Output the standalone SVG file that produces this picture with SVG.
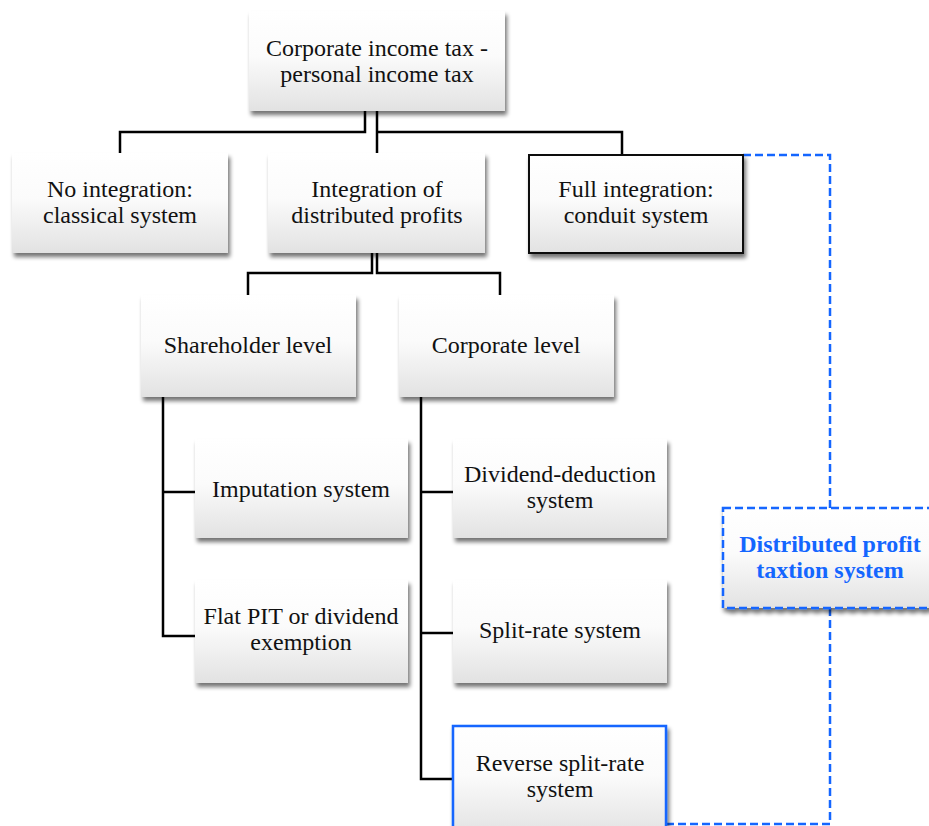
<svg xmlns="http://www.w3.org/2000/svg" width="929" height="826" viewBox="0 0 929 826">
  <defs>
    <linearGradient id="boxFill" x1="0" y1="0" x2="0" y2="1">
      <stop offset="0" stop-color="#ffffff"/>
      <stop offset="0.45" stop-color="#fbfbfb"/>
      <stop offset="1" stop-color="#e2e2e2"/>
    </linearGradient>
    <filter id="shadow" x="-10%" y="-10%" width="125%" height="130%">
      <feGaussianBlur in="SourceAlpha" stdDeviation="2.2"/>
      <feOffset dx="2" dy="4" result="b"/>
      <feComponentTransfer><feFuncA type="linear" slope="0.55"/></feComponentTransfer>
      <feMerge><feMergeNode/><feMergeNode in="SourceGraphic"/></feMerge>
    </filter>
  </defs>
  <style>
    .box { fill: url(#boxFill); filter: url(#shadow); }
    .dark { stroke: #111; stroke-width: 2; }
    .blue { stroke: #1466ff; stroke-width: 2.5; }
    .bluedash { stroke: #1466ff; stroke-width: 2.5; stroke-dasharray: 8 4; fill: none; }
    .lbl { font-family: "Liberation Serif", "Times New Roman", serif; font-size: 24px; fill: #111; text-anchor: middle; }
    .blbl { font-family: "Liberation Serif", "Times New Roman", serif; font-size: 24px; font-weight: bold; fill: #1466ff; text-anchor: middle; }
    .conn { stroke: #000; stroke-width: 2.5; fill: none; }
  </style>

  <rect width="929" height="826" fill="#ffffff"/>

  <!-- tree connectors -->
  <g id="connectors">
    <polyline class="conn" points="365,111 365,132 120,132 120,153"/>
    <polyline class="conn" points="377,111 377,153"/>
    <polyline class="conn" points="377,132 622,132 622,155"/>
    <polyline class="conn" points="372,253 372,273 248,273 248,295"/>
    <polyline class="conn" points="377,253 377,273 500,273 500,295"/>
    <polyline class="conn" points="163,397 163,636 195,636"/>
    <line class="conn" x1="163" y1="492" x2="195" y2="492"/>
    <polyline class="conn" points="421,397 421,779 453,779"/>
    <line class="conn" x1="421" y1="492" x2="453" y2="492"/>
    <line class="conn" x1="421" y1="633" x2="453" y2="633"/>
    <!-- dashed grouping line -->
    <polyline class="bluedash" points="743,155 830,155 830,508"/>
    <polyline class="bluedash" points="830,608 830,824 667,824"/>
  </g>

  <g id="top">
    <rect class="box" x="249" y="11" width="256" height="100"/>
    <text class="lbl" x="377" y="56">Corporate income tax -</text>
    <text class="lbl" x="377" y="82">personal income tax</text>
  </g>

  <g id="no-integration">
    <rect class="box" x="12" y="153" width="216" height="100"/>
    <text class="lbl" x="120" y="197">No integration:</text>
    <text class="lbl" x="120" y="223">classical system</text>
  </g>

  <g id="integration-distributed">
    <rect class="box" x="268" y="153" width="217" height="100"/>
    <text class="lbl" x="377" y="197">Integration of</text>
    <text class="lbl" x="377" y="223">distributed profits</text>
  </g>

  <g id="full-integration">
    <rect class="box dark" x="529" y="155" width="214" height="98"/>
    <text class="lbl" x="636" y="197">Full integration:</text>
    <text class="lbl" x="636" y="223">conduit system</text>
  </g>

  <g id="shareholder-level">
    <rect class="box" x="141" y="295" width="215" height="102"/>
    <text class="lbl" x="248" y="353">Shareholder level</text>
  </g>

  <g id="corporate-level">
    <rect class="box" x="399" y="295" width="215" height="102"/>
    <text class="lbl" x="506" y="353">Corporate level</text>
  </g>

  <g id="imputation">
    <rect class="box" x="195" y="439" width="213" height="99"/>
    <text class="lbl" x="301" y="497">Imputation system</text>
  </g>

  <g id="flat-pit">
    <rect class="box" x="195" y="580" width="213" height="103"/>
    <text class="lbl" x="301" y="624">Flat PIT or dividend</text>
    <text class="lbl" x="301" y="650">exemption</text>
  </g>

  <g id="dividend-deduction">
    <rect class="box" x="453" y="439" width="214" height="99"/>
    <text class="lbl" x="560" y="482">Dividend-deduction</text>
    <text class="lbl" x="560" y="508">system</text>
  </g>

  <g id="split-rate">
    <rect class="box" x="453" y="580" width="214" height="103"/>
    <text class="lbl" x="560" y="638">Split-rate system</text>
  </g>

  <g id="reverse-split-rate">
    <rect class="box blue" x="453" y="726" width="213" height="110"/>
    <text class="lbl" x="560" y="771">Reverse split-rate</text>
    <text class="lbl" x="560" y="797">system</text>
  </g>

  <g id="distributed-profit">
    <rect class="box bluedash" style="fill:url(#boxFill)" x="723" y="508" width="220" height="100"/>
    <text class="blbl" x="830" y="552">Distributed profit</text>
    <text class="blbl" x="830" y="578">taxtion system</text>
  </g>
</svg>
